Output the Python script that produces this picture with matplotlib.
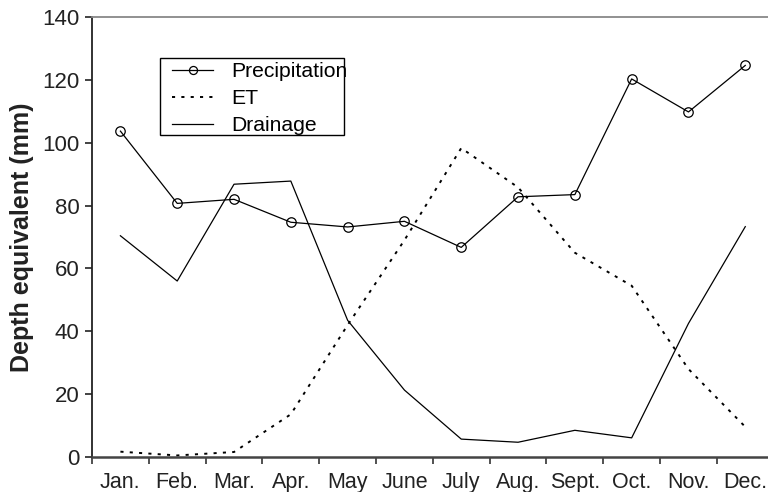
import numpy as np
import matplotlib
matplotlib.use("Agg")
import matplotlib.pyplot as plt
from matplotlib.patches import Rectangle

plt.rcParams["font.family"] = ["Liberation Sans", "DejaVu Sans"]

months = ["Jan.", "Feb.", "Mar.", "Apr.", "May", "June", "July",
          "Aug.", "Sept.", "Oct.", "Nov.", "Dec."]
precipitation = [103.7, 80.7, 82.0, 74.7, 73.2, 75.0, 66.7, 82.8, 83.5, 120.3, 109.8, 124.6]
et = [1.7, 0.5, 1.6, 13.6, 42.0, 69.0, 98.3, 85.8, 65.0, 54.5, 28.0, 9.6]
drainage = [70.4, 56.0, 86.8, 87.8, 43.5, 21.3, 5.7, 4.7, 8.5, 6.1, 42.5, 73.3]
y_ticks = [0, 20, 40, 60, 80, 100, 120, 140]

fig = plt.figure(figsize=(7.68, 4.92), dpi=100)
ax = fig.add_axes([0.1198, 0.0711, 0.8802, 0.8943])

x = np.arange(len(months)) + 0.5

ax.plot(x, precipitation, color="black", lw=0.9, marker="o", markersize=6.8,
        markerfacecolor="none", markeredgecolor="black", markeredgewidth=0.9,
        label="Precipitation")
ax.plot(x, et, color="black", lw=1.4, linestyle=(0, (1.6, 3.2)), label="ET")
ax.plot(x, drainage, color="black", lw=0.9, label="Drainage")

ax.set_xlim(0, 11.9)
ax.set_ylim(0, 140)
ax.set_yticks(y_ticks)
ax.set_xticks(np.arange(0, 12))
ax.set_xticklabels([])
ax.set_xticks(x, minor=True)
ax.set_xticklabels(months, minor=True)

ax.tick_params(axis="y", which="major", direction="out", length=5, width=1.2,
               labelsize=16, pad=4, colors="#222222")
ax.tick_params(axis="x", which="major", direction="out", length=5, width=1.2,
               colors="#333333")
ax.tick_params(axis="x", which="minor", length=0, labelsize=15.5, pad=11,
               labelcolor="#222222")

ax.spines["right"].set_visible(False)
ax.spines["left"].set_linewidth(1.3)
ax.spines["left"].set_color("#222222")
ax.spines["bottom"].set_linewidth(1.8)
ax.spines["bottom"].set_color("#444444")
ax.spines["top"].set_linewidth(1.3)
ax.spines["top"].set_color("#888888")

ax.set_ylabel("Depth equivalent (mm)", fontsize=18, fontweight="bold",
              labelpad=6, color="#222222")

# Legend entries without a frame; the box is drawn separately so the long
# label may run up to its edge.
leg = ax.legend(loc="upper left", bbox_to_anchor=(0.1183, 0.897), fontsize=15.2,
                frameon=False, handlelength=1.95, handletextpad=0.85,
                labelspacing=0.38, borderpad=0, borderaxespad=0,
                markerscale=0.85)
ax.add_patch(Rectangle((0.1006, 0.7318), 0.2722, 0.1742, transform=ax.transAxes,
                       facecolor="white", edgecolor="black", lw=1.0, zorder=4))
leg.set_zorder(5)

fig.savefig("out.png", dpi=100)
